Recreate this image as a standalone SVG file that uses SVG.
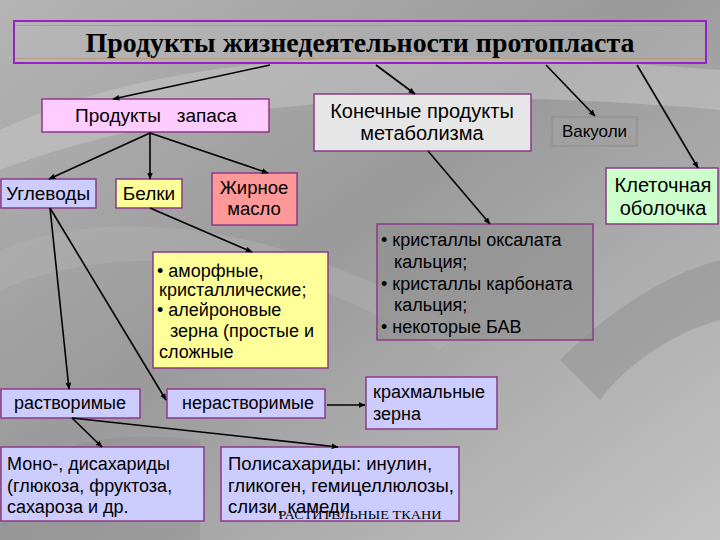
<svg xmlns="http://www.w3.org/2000/svg" width="720" height="540" viewBox="0 0 720 540">
<defs>
<linearGradient id="bg" x1="0" y1="0" x2="1" y2="1">
<stop offset="0" stop-color="#b4b4b4"/>
<stop offset="0.45" stop-color="#9a9a9a"/>
<stop offset="1" stop-color="#c4c4c4"/>
</linearGradient>
<marker id="ah" viewBox="0 0 10 10" refX="9" refY="5" markerWidth="7" markerHeight="7" orient="auto" markerUnits="userSpaceOnUse">
<path d="M0,1 L10,5 L0,9 Z" fill="#000"/>
</marker>
<style>
.t{font-family:"Liberation Sans",Arial,sans-serif;font-size:18px;fill:#000;white-space:pre}
.b{font-family:"Liberation Sans",Arial,sans-serif;font-size:19px;fill:#000;white-space:pre}
.l{font-family:"Liberation Sans",Arial,sans-serif;font-size:20px;fill:#000;white-space:pre}
.box{stroke:#8a3a8a;stroke-width:1.5}
.c line{stroke:#000;stroke-width:1.6;fill:none;marker-end:url(#ah)}
</style>
</defs>
<rect width="720" height="540" fill="url(#bg)"/>
<path d="M0,130 C150,60 350,40 720,70 L720,110 C380,80 160,110 0,170 Z" fill="#c8c8c8" opacity="0.5"/>
<path d="M0,250 C120,200 300,230 460,330 L440,350 C300,260 130,235 0,290 Z" fill="#b0b0b0" opacity="0.5"/>
<path d="M560,360 C620,300 680,270 720,260 L720,320 C680,330 630,360 600,400 Z" fill="#888" opacity="0.4"/>
<path d="M0,480 C60,440 120,430 200,440 L200,540 L0,540 Z" fill="#8c8c8c" opacity="0.4"/>

<g id="title">
<rect x="14" y="21" width="692" height="42" fill="#c0c0c0" fill-opacity="0.35" stroke="#9a1fc8" stroke-width="2"/>
<line x1="15" y1="25.5" x2="705" y2="25.5" stroke="#b89a80" stroke-width="1"/>
<line x1="15" y1="58.5" x2="705" y2="58.5" stroke="#b89a80" stroke-width="1"/>
<text x="360" y="52" text-anchor="middle" font-family="'Liberation Serif','Times New Roman',serif" font-weight="bold" font-size="27" textLength="549" lengthAdjust="spacingAndGlyphs">Продукты жизнедеятельности протопласта</text>
</g>

<g id="zapas">
<rect class="box" x="42" y="99" width="227" height="33" fill="#ffccff"/>
<text class="b" x="156" y="122" text-anchor="middle">Продукты   запаса</text>
</g>

<g id="konech">
<rect class="box" x="314" y="94" width="217" height="57" fill="#e6e6e6"/>
<text class="l" x="422" y="118" text-anchor="middle">Конечные продукты</text>
<text class="l" x="422" y="140" text-anchor="middle">метаболизма</text>
</g>

<g id="vakuoli">
<rect x="552" y="117" width="85" height="29" fill="#a0a0a0" stroke="#8c8c8c" stroke-width="1"/>
<text class="b" x="594.5" y="137" text-anchor="middle" style="font-size:17px">Вакуоли</text>
</g>

<g id="obolochka">
<rect class="box" x="606" y="168" width="112" height="56" fill="#ccffcc"/>
<text class="l" x="663" y="192" text-anchor="middle">Клеточная</text>
<text class="l" x="663" y="215" text-anchor="middle">оболочка</text>
</g>

<g id="uglevody">
<rect class="box" x="1" y="179" width="95" height="29" fill="#ccccff"/>
<text class="b" x="48" y="200" text-anchor="middle">Углеводы</text>
</g>

<g id="belki">
<rect class="box" x="116" y="179" width="66" height="29" fill="#ffff99"/>
<text class="b" x="149" y="200" text-anchor="middle">Белки</text>
</g>

<g id="maslo">
<rect class="box" x="212" y="173" width="85" height="52" fill="#ff9999"/>
<text class="t" x="254" y="194" text-anchor="middle" style="font-size:18.5px">Жирное</text>
<text class="t" x="254" y="215" text-anchor="middle" style="font-size:18.5px">масло</text>
</g>

<g id="amorf">
<rect class="box" x="153" y="252" width="175" height="116" fill="#ffff99"/>
<text class="t" x="157" y="277">• аморфные,</text>
<text class="t" x="159" y="296">кристаллические;</text>
<text class="t" x="157" y="316">• алейроновые</text>
<text class="t" x="170" y="337">зерна (простые и</text>
<text class="t" x="159" y="358">сложные</text>
</g>

<g id="kristally">
<rect class="box" x="377" y="224" width="216" height="116" fill="#8e8e8e" fill-opacity="0.6"/>
<text class="t" x="381" y="246">• кристаллы оксалата</text>
<text class="t" x="394" y="268">кальция;</text>
<text class="t" x="381" y="290">• кристаллы карбоната</text>
<text class="t" x="394" y="311">кальция;</text>
<text class="t" x="381" y="333">• некоторые БАВ</text>
</g>

<g id="rastvor">
<rect class="box" x="1" y="389" width="139" height="29" fill="#ccccff"/>
<text class="t" x="70" y="409" text-anchor="middle">растворимые</text>
</g>

<g id="nerastvor">
<rect class="box" x="167" y="389" width="158" height="29" fill="#ccccff"/>
<text class="t" x="248" y="409" text-anchor="middle">нерастворимые</text>
</g>

<g id="krahmal">
<rect class="box" x="366" y="377" width="131" height="52" fill="#ccccff"/>
<text class="t" x="373" y="398">крахмальные</text>
<text class="t" x="373" y="420">зерна</text>
</g>

<g id="mono">
<rect class="box" x="1" y="447" width="203" height="74" fill="#ccccff"/>
<text class="t" x="7" y="470">Моно-, дисахариды</text>
<text class="t" x="7" y="492">(глюкоза, фруктоза,</text>
<text class="t" x="7" y="513">сахароза и др.</text>
</g>

<g id="poli">
<rect class="box" x="221" y="447" width="238" height="74" fill="#ccccff"/>
<text class="t" x="228" y="470" style="font-size:18.5px">Полисахариды: инулин,</text>
<text class="t" x="228" y="492" style="font-size:18.5px">гликоген, гемицеллюлозы,</text>
<text class="t" x="228" y="513" style="font-size:18.5px">слизи, камеди</text>
</g>

<text x="360" y="519" text-anchor="middle" font-family="'Liberation Serif','Times New Roman',serif" font-size="12" textLength="163" lengthAdjust="spacingAndGlyphs">РАСТИТЕЛЬНЫЕ ТКАНИ</text>

<g id="connectors" class="c">
<line x1="270" y1="65" x2="113" y2="99"/>
<line x1="376" y1="65" x2="415" y2="94"/>
<line x1="546" y1="65" x2="595" y2="116"/>
<line x1="637" y1="65" x2="698" y2="168"/>
<line x1="150" y1="133" x2="49" y2="179"/>
<line x1="150" y1="133" x2="150" y2="179"/>
<line x1="150" y1="133" x2="268" y2="173"/>
<line x1="428" y1="151" x2="490" y2="224"/>
<line x1="150" y1="208" x2="252" y2="252"/>
<line x1="50" y1="208" x2="69" y2="389"/>
<line x1="50" y1="208" x2="166" y2="400"/>
<line x1="72" y1="418" x2="102" y2="447"/>
<line x1="72" y1="418" x2="338" y2="447"/>
<line x1="327" y1="405" x2="365" y2="405"/>
</g>
</svg>
